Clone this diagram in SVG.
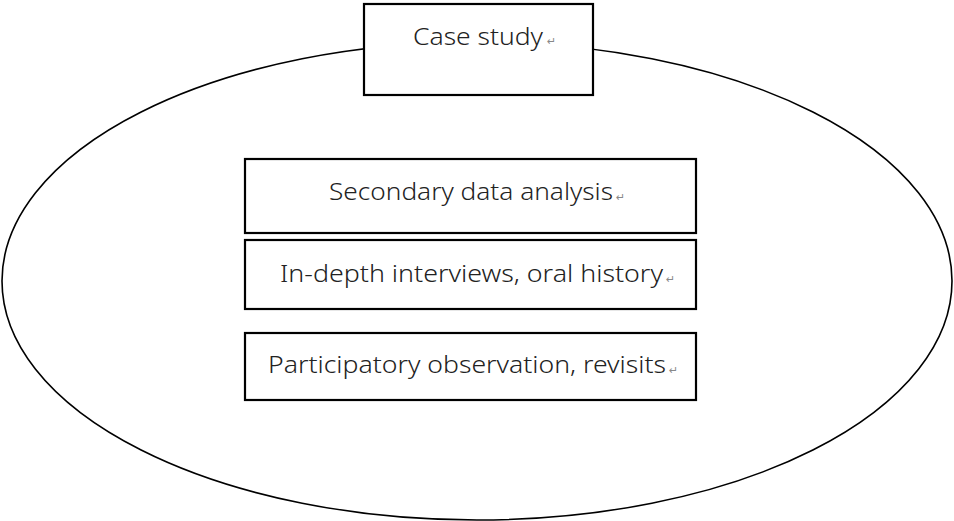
<svg xmlns="http://www.w3.org/2000/svg" width="954" height="521" viewBox="0 0 954 521">
<style>
.box{fill:#fff;stroke:#000;stroke-width:2.2}
.lbl{font-family:"Noto Sans","Liberation Sans",sans-serif;font-size:23px;font-weight:300;fill:#222}
.ret{font-family:"DejaVu Sans",sans-serif;font-size:11px;fill:#888}
</style>
<rect width="954" height="521" fill="#fff"/>
<g id="scope">
<ellipse cx="477" cy="281" rx="475" ry="239" fill="none" stroke="#000" stroke-width="1.6"/>
</g>
<g id="connectors"/>
<g id="case-study">
<rect class="box" x="364" y="4" width="229" height="91"/>
<text class="lbl" x="413" y="45" textLength="130" lengthAdjust="spacingAndGlyphs">Case study</text>
<text class="ret" x="547" y="45">↵</text>
</g>
<g id="secondary">
<rect class="box" x="245" y="159" width="451" height="74"/>
<text class="lbl" x="329" y="200" textLength="284" lengthAdjust="spacingAndGlyphs">Secondary data analysis</text>
<text class="ret" x="616" y="201">↵</text>
</g>
<g id="interviews">
<rect class="box" x="245" y="240" width="451" height="69"/>
<text class="lbl" x="280" y="282" textLength="383" lengthAdjust="spacingAndGlyphs">In-depth interviews, oral history</text>
<text class="ret" x="666" y="283">↵</text>
</g>
<g id="observation">
<rect class="box" x="245" y="333" width="451" height="67"/>
<text class="lbl" x="268" y="373" textLength="398" lengthAdjust="spacingAndGlyphs">Participatory observation, revisits</text>
<text class="ret" x="669" y="374">↵</text>
</g>
</svg>
